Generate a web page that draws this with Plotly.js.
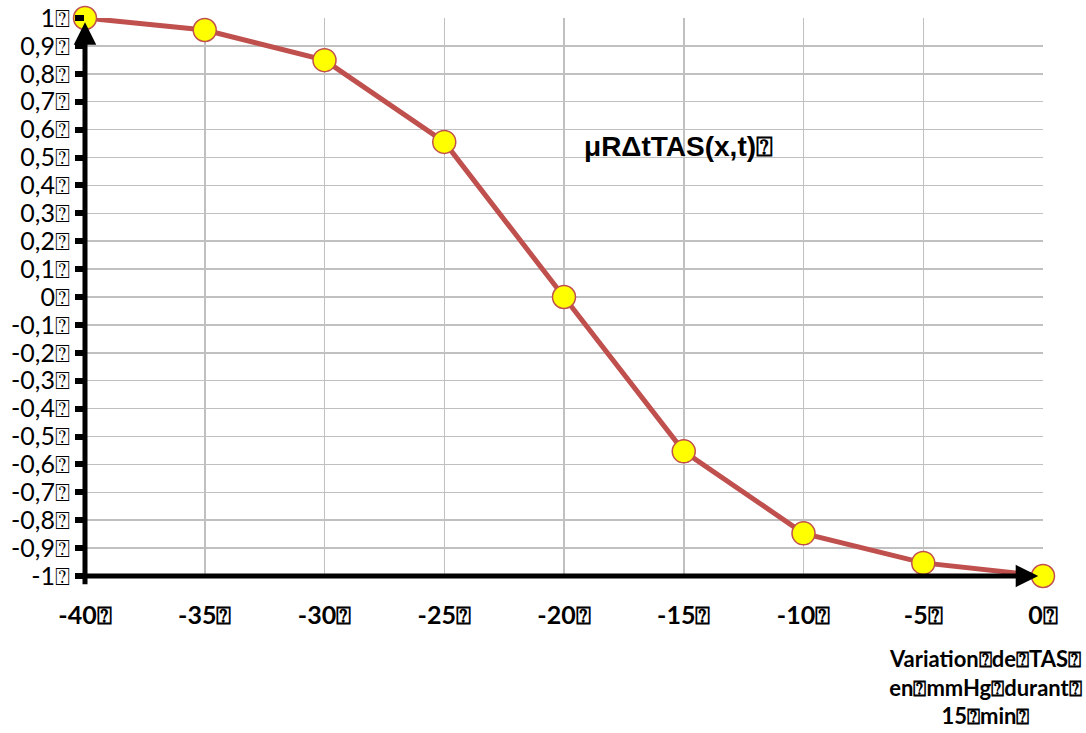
<!DOCTYPE html>
<html><head><meta charset="utf-8">
<script src="https://cdn.plot.ly/plotly-3.0.1.min.js"></script>
<style>html,body{margin:0;padding:0;background:#fff}#chart{width:1086px;height:733px}</style>
</head><body><div id="chart"></div>
<script>
const xValues = [-40, -35, -30, -25, -20, -15, -10, -5, 0];
const yValues = [1, 0.957, 0.849, 0.556, 0, -0.553, -0.847, -0.953, -1];
const xTickVals = [-40, -35, -30, -25, -20, -15, -10, -5, 0];
const xTickText = ['-40⍰', '-35⍰', '-30⍰', '-25⍰', '-20⍰', '-15⍰', '-10⍰', '-5⍰', '0⍰'];
const yTickVals = [1, 0.9, 0.8, 0.7, 0.6, 0.5, 0.4, 0.3, 0.2, 0.1, 0, -0.1, -0.2, -0.3, -0.4, -0.5, -0.6, -0.7, -0.8, -0.9, -1];
const yTickText = ['1⍰', '0,9⍰', '0,8⍰', '0,7⍰', '0,6⍰', '0,5⍰', '0,4⍰', '0,3⍰', '0,2⍰', '0,1⍰', '0⍰', '-0,1⍰', '-0,2⍰', '-0,3⍰', '-0,4⍰', '-0,5⍰', '-0,6⍰', '-0,7⍰', '-0,8⍰', '-0,9⍰', '-1⍰'];
const seriesLabel = 'μRΔtTAS(x,t)⍰';
const xAxisLabel = 'Variation⍰de⍰TAS⍰<br>en⍰mmHg⍰durant⍰<br>15⍰min⍰';

const trace = {
  x: xValues, y: yValues, type: 'scatter', mode: 'lines+markers',
  line: {color: '#C0504D', width: 5},
  marker: {size: 23, color: '#FFFF00', line: {color: '#C0504D', width: 1.5}},
  cliponaxis: false, hoverinfo: 'skip'
};

const pw = 1086 - 85 - 43, ph = 733 - 18 - 157;

const layout = {
  width: 1086, height: 733,
  margin: {l: 85, r: 43, t: 18, b: 157},
  paper_bgcolor: '#fff', plot_bgcolor: '#fff',
  showlegend: false,
  xaxis: {
    range: [-40, 0], tickvals: xTickVals, ticktext: xTickText,
    showgrid: true, gridcolor: '#C0C0C0', gridwidth: 1.5, zeroline: false,
    showline: false, ticks: '', ticklabelstandoff: 22,
    tickfont: {family: 'Lato, "Open Sans", sans-serif', size: 25, color: '#000', weight: 'bold'}
  },
  yaxis: {
    range: [-1, 1], tickvals: yTickVals, ticktext: yTickText,
    showgrid: true, gridcolor: '#C0C0C0', gridwidth: 1.5, zeroline: false,
    showline: false, ticks: 'outside', ticklen: 9, tickwidth: 6, tickcolor: '#000',
    ticklabelstandoff: 0,
    tickfont: {family: 'Lato, "Open Sans", sans-serif', size: 25, color: '#000'}
  },
  annotations: [
    {x: -40, y: 0.985, ax: -40, ay: -1.035, xref: 'x', yref: 'y', axref: 'x', ayref: 'y',
     showarrow: true, arrowhead: 2, arrowsize: 0.9, arrowwidth: 5, arrowcolor: '#000', text: ''},
    {x: -0.2, y: -1, ax: -40.2, ay: -1, xref: 'x', yref: 'y', axref: 'x', ayref: 'y',
     showarrow: true, arrowhead: 2, arrowsize: 0.9, arrowwidth: 5, arrowcolor: '#000', text: ''},
    {x: -15.2, y: 0.54, xref: 'x', yref: 'y', text: seriesLabel, showarrow: false,
     font: {family: '"Liberation Sans", Arial, sans-serif', size: 28, color: '#000', weight: 'bold'}},
    {x: (985 - 85) / pw, y: (733 - 157 - 643) / ph, xref: 'paper', yref: 'paper',
     xanchor: 'center', yanchor: 'top', text: xAxisLabel, showarrow: false, align: 'center',
     font: {family: 'Lato, "Open Sans", sans-serif', size: 22, color: '#000', weight: 'bold'}}
  ]
};

Plotly.newPlot('chart', [trace], layout, {displayModeBar: false, staticPlot: true});
</script></body></html>
